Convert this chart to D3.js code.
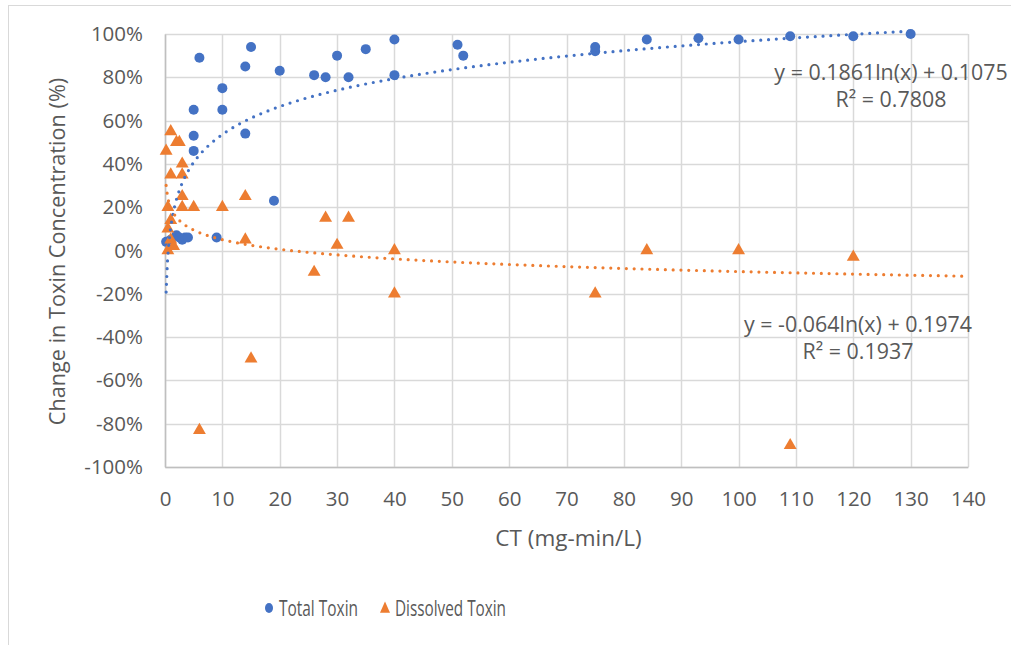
<!DOCTYPE html>
<html>
<head>
<meta charset="utf-8">
<script src="https://cdn.jsdelivr.net/npm/d3@7"></script>
<style>
  body { margin: 0; background: #fff; }
  text { font-family: "Open Sans", "Noto Sans", sans-serif; fill: #595959; }
</style>
</head>
<body>
<div id="chart"></div>
<script>
// Data (CT in mg-min/L, change in %)
const totalX = [0.2, 1, 2, 2.5, 3, 3.5, 4, 5, 5, 5, 6, 9, 10, 10, 14, 14, 15, 19, 20, 26, 28, 30, 32, 35, 40, 40, 51, 52, 75, 75, 84, 93, 100, 109, 120, 130];
const totalY = [4, 5, 7, 6, 5, 6, 6, 46, 53, 65, 89, 6, 65, 75, 54, 85, 94, 23, 83, 81, 80, 90, 80, 93, 97.5, 81, 95, 90, 92, 94, 97.5, 98, 97.5, 99, 99, 100];

const dissolvedX = [0.2, 0.5, 0.5, 0.5, 1, 1, 1, 1, 1.5, 2, 2.5, 3, 3, 3, 3, 5, 6, 10, 14, 14, 15, 26, 28, 30, 32, 40, 40, 75, 84, 100, 109, 120];
const dissolvedY = [46, 20, 10, 0, 55, 35, 14, 5, 2, 50, 50, 40, 35, 25, 20, 20, -83, 20, 25, 5, -50, -10, 15, 2.5, 15, 0, -20, -20, 0, 0, -90, -3];

// Logarithmic trendlines: y = a ln(x) + b
const totalTrend = [0.1861, 0.1075];
const dissolvedTrend = [-0.064, 0.1974];
const totalTrendRange = [0.2, 130];
const dissolvedTrendRange = [0.2, 140];
const totalTrendLabel = ["y = 0.1861ln(x) + 0.1075", "R² = 0.7808"];
const dissolvedTrendLabel = ["y = -0.064ln(x) + 0.1974", "R² = 0.1937"];

const xTicks = d3.range(0, 141, 10);
const yTicks = d3.range(-100, 101, 20);
const seriesNames = ['Total Toxin', 'Dissolved Toxin'];

const blue = '#4472C4';
const orange = '#ED7D31';

const W = 1011, H = 645;
const margin = { top: 34, right: 43, bottom: 178, left: 165 };
const width = W - margin.left - margin.right;
const height = H - margin.top - margin.bottom;

const root = d3.select('#chart')
    .append('svg')
    .attr('width', W)
    .attr('height', H);

// outer chart border
root.append('rect')
    .attr('x', 8.5).attr('y', 5.5)
    .attr('width', W + 20).attr('height', H + 20)
    .attr('fill', 'none')
    .attr('stroke', '#d9d9d9');

const svg = root.append('g')
    .attr('transform', 'translate(' + margin.left + ',' + margin.top + ')');

const x = d3.scaleLinear().domain([0, 140]).range([0, width]);
const y = d3.scaleLinear().domain([-100, 100]).range([height, 0]);

// gridlines
svg.append('g')
    .selectAll('line')
    .data(yTicks)
    .join('line')
    .attr('x1', 0).attr('x2', width)
    .attr('y1', d => Math.round(y(d)) + 0.5).attr('y2', d => Math.round(y(d)) + 0.5)
    .attr('stroke', '#d9d9d9').attr('stroke-width', 1.5);

svg.append('g')
    .selectAll('line')
    .data(xTicks)
    .join('line')
    .attr('x1', d => Math.round(x(d)) + 0.5).attr('x2', d => Math.round(x(d)) + 0.5)
    .attr('y1', 0).attr('y2', height)
    .attr('stroke', '#d9d9d9').attr('stroke-width', 1.5);

// axes
const xAxis = svg.append('g')
    .attr('transform', 'translate(0,' + height + ')')
    .call(d3.axisBottom(x).tickValues(xTicks).tickSize(0).tickPadding(24));
xAxis.select('.domain').attr('stroke', '#bfbfbf').attr('stroke-width', 1.5);
xAxis.selectAll('text').style('font-size', '20.5px').attr('fill', '#595959');

const yAxis = svg.append('g')
    .call(d3.axisLeft(y).tickValues(yTicks).tickSize(0).tickPadding(22).tickFormat(d => d + '%'));
yAxis.select('.domain').attr('stroke', '#bfbfbf').attr('stroke-width', 1.5);
yAxis.selectAll('text').style('font-size', '20.5px').attr('fill', '#595959');

// axis titles
svg.append('text')
    .attr('x', width / 2 + 2).attr('y', height + 79)
    .attr('text-anchor', 'middle')
    .style('font-size', '22.5px')
    .text('CT (mg-min/L)');

svg.append('text')
    .attr('transform', 'translate(' + (-100) + ',' + (height / 2 + 1) + ') rotate(-90)')
    .attr('text-anchor', 'middle')
    .style('font-size', '21.7px')
    .text('Change in Toxin Concentration (%)');

// markers
svg.append('g')
    .selectAll('circle')
    .data(totalX.map((d, i) => ({ x: d, y: totalY[i] })))
    .join('circle')
    .attr('cx', d => x(d.x))
    .attr('cy', d => y(d.y))
    .attr('r', 5)
    .attr('fill', blue);

const tri = d3.symbol().type(d3.symbolTriangle).size(72);
svg.append('g')
    .selectAll('path')
    .data(dissolvedX.map((d, i) => ({ x: d, y: dissolvedY[i] })))
    .join('path')
    .attr('d', tri)
    .attr('transform', d => 'translate(' + x(d.x) + ',' + y(d.y) + ')')
    .attr('fill', orange);

// trendlines, sampled evenly in pixel space so the dots stay evenly spaced
const trendLine = d3.line().x(d => x(d[0])).y(d => y(d[1]));
function densePoints(coef, range) {
    const pts = [];
    const n = 600;
    for (let i = 0; i <= n; i++) {
        const px = x(range[0]) + (x(range[1]) - x(range[0])) * i / n;
        const v = x.invert(px);
        pts.push([v, (coef[0] * Math.log(v) + coef[1]) * 100]);
    }
    return pts;
}

[[totalTrend, totalTrendRange, blue], [dissolvedTrend, dissolvedTrendRange, orange]].forEach(t => {
    svg.append('path')
        .datum(densePoints(t[0], t[1]))
        .attr('d', trendLine)
        .attr('fill', 'none')
        .attr('stroke', t[2])
        .attr('stroke-width', 3.2)
        .attr('stroke-linecap', 'round')
        .attr('stroke-dasharray', '0 7.8');
});

// trendline labels
function eqLabel(lines, cx, cy) {
    const t = root.append('text')
        .attr('text-anchor', 'middle')
        .style('font-size', '21.4px');
    lines.forEach((l, i) => {
        t.append('tspan').attr('x', cx).attr('y', cy + i * 27).text(l);
    });
}
eqLabel(totalTrendLabel, 891, 80);
eqLabel(dissolvedTrendLabel, 858, 332);

// legend
const legend = root.append('g').attr('transform', 'translate(269,608)');
legend.append('ellipse').attr('rx', 4).attr('ry', 5).attr('fill', blue);
legend.append('text').attr('x', 10).attr('y', 7.5).style('font-size', '21px')
    .attr('textLength', 79).attr('lengthAdjust', 'spacingAndGlyphs').text(seriesNames[0]);
legend.append('path').attr('d', d3.symbol().type(d3.symbolTriangle).size(60))
    .attr('transform', 'translate(116,1) scale(0.85,1.1)').attr('fill', orange);
legend.append('text').attr('x', 126).attr('y', 7.5).style('font-size', '21px')
    .attr('textLength', 111).attr('lengthAdjust', 'spacingAndGlyphs').text(seriesNames[1]);
</script>
</body>
</html>
